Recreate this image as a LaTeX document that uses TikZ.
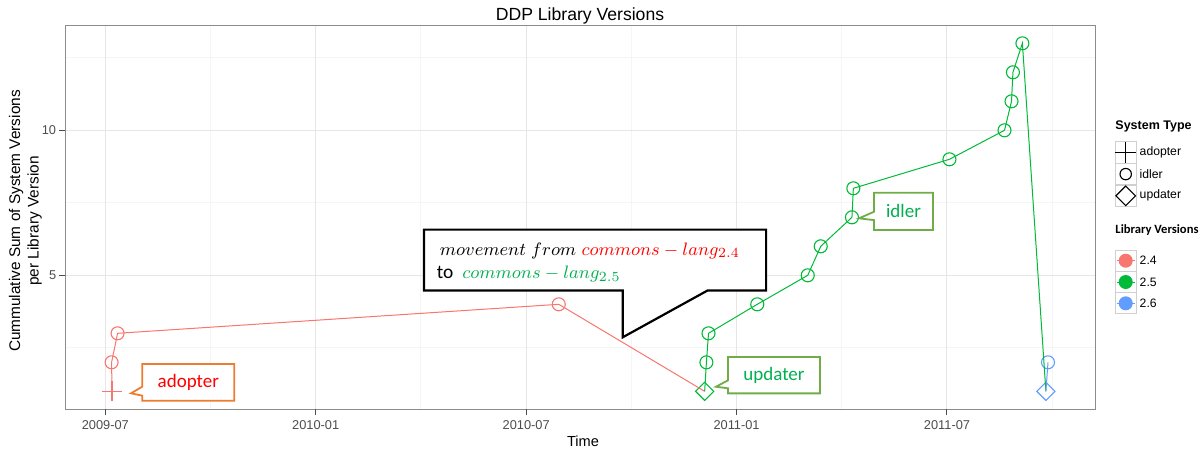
\documentclass[tikz,border=0pt]{standalone}
\usepackage{fontspec}
\setmainfont{Liberation Sans}
\newfontfamily\calibri{Carlito}
\usetikzlibrary{shapes.geometric,shapes.callouts,calc}

\definecolor{vred}{HTML}{F8766D}
\definecolor{vgreen}{HTML}{00BA38}
\definecolor{vblue}{HTML}{619CFF}
\definecolor{txtred}{HTML}{FF0000}
\definecolor{txtgreen}{HTML}{00B050}
\definecolor{boxorange}{HTML}{ED7D31}
\definecolor{boxgreen}{HTML}{70AD47}
\definecolor{gridmaj}{HTML}{E6E6E6}
\definecolor{gridmin}{HTML}{F5F5F5}
\definecolor{panelgray}{HTML}{8C8C8C}
\definecolor{keygray}{HTML}{D0D0D0}

\tikzset{
  gridmajor/.style={gridmaj,line width=0.5pt},
  gridminor/.style={gridmin,line width=0.5pt},
  panelline/.style={panelgray,line width=0.6pt},
  tickline/.style={black!70,line width=0.5pt},
  ticklab/.style={inner sep=0pt,font=\fontsize{6.4}{7.7}\selectfont},
  dataline/.style={line width=0.5pt},
  idler/.style={circle,draw=#1,minimum size=6.5pt,inner sep=0pt,line width=0.55pt},
  updater/.style={diamond,draw=#1,minimum size=9.3pt,inner sep=0pt,line width=0.55pt},
  adopter/.style={rectangle,minimum size=10pt,inner sep=0pt,
    path picture={\draw[#1,line width=0.55pt]
      (path picture bounding box.north) -- (path picture bounding box.south)
      (path picture bounding box.west) -- (path picture bounding box.east);}},
  keybox/.style={keygray,line width=0.5pt},
  leglab/.style={anchor=west,inner sep=0pt,font=\fontsize{6.1}{7.3}\selectfont},
  tagbox/.style={rectangle callout,draw=#1,fill=white,line width=0.9pt,inner sep=0pt,
    font=\calibri\fontsize{9.5}{11.4}\selectfont},
}

\begin{document}
\begin{tikzpicture}[x=0.5pt,y=-0.5pt]
\useasboundingbox (0,0) rectangle (1202,451);

% plot panel, data coordinates: months since 2009-07 / cumulative sum
\begin{scope}[shift={(105.3,420.3)},x=17.535pt,y=14.5pt]
\def\xl{-1.14} \def\xr{28.24} \def\yb{0.38} \def\yt{13.61}

\foreach \m in {3,9,...,27} \draw[gridminor] (\m,\yb) -- (\m,\yt);
\foreach \v in {2.5,7.5,12.5} \draw[gridminor] (\xl,\v) -- (\xr,\v);
\foreach \m in {0,6,...,24} \draw[gridmajor] (\m,\yb) -- (\m,\yt);
\foreach \v in {5,10} \draw[gridmajor] (\xl,\v) -- (\xr,\v);
\draw[panelline] (\xl,\yb) rectangle (\xr,\yt);

\foreach \m/\lab in {0/2009-07,6/2010-01,12/2010-07,18/2011-01,24/2011-07}
  \draw[tickline] (\m,\yb) -- ++(0,-2.85pt) node[ticklab,anchor=north,yshift=-2.5pt] (xt\m) {\lab};
\foreach \v in {5,10}
  \draw[tickline] (\xl,\v) -- ++(-3pt,0) node[ticklab,anchor=east,xshift=-1.35pt] (yt\v) {\v};

% library version 2.4
\node[adopter=vred] (r1) at (0.19,1) {};
\foreach \i/\m in {2/0.18,3/0.35,4/12.93} \node[idler=vred] (r\i) at (\m,\i) {};

% library version 2.5
\node[updater=vgreen] (g1) at (17.09,1) {};
\foreach \i/\m in {2/17.14,3/17.20,4/18.59,5/20.03,6/20.40,7/21.29,8/21.33,9/24.07,10/25.64,11/25.84,12/25.88,13/26.15}
  \node[idler=vgreen] (g\i) at (\m,\i) {};

% library version 2.6
\node[updater=vblue] (b1) at (26.82,1) {};
\node[idler=vblue] (b2) at (26.88,2) {};

\draw[vred,dataline] (r1.center) -- (r2.center) -- (r3.center) -- (r4.center) -- (g1.center);
\draw[vgreen,dataline] (g1.center) foreach \i in {2,...,13} {-- (g\i.center)} -- (b1.center);
\draw[vblue,dataline] (b1.center) -- (b2.center);
\end{scope}

% titles
\node[anchor=base,inner sep=0pt,font=\fontsize{8.8}{10.5}\selectfont] (title) at (580,20.7) {DDP Library Versions};
\node[anchor=base,inner sep=0pt,font=\fontsize{7.3}{8.8}\selectfont] (xtitle) at (583,446.5) {Time};
\node[rotate=90,align=center,inner sep=0pt,font=\fontsize{7.7}{9.25}\selectfont] (ytitle) at (25.5,221)
  {Cummulative Sum of System Versions\\per Library Version};

% legend: system type
\node[anchor=west,inner sep=0pt,font=\bfseries\fontsize{6.25}{7.5}\selectfont] (sttitle) at (1115,126.7) {System Type};
\foreach \y in {141.7,163.3,185} \draw[keybox] (1115,\y) rectangle ++(21.5,21.6);
\node[adopter=black,minimum size=10.75pt] (ka) at (1125.7,152.5) {};
\node[idler=black,minimum size=5.7pt] (ki) at (1125.7,174.1) {};
\node[updater=black,minimum size=10pt] (ku) at (1125.7,195.8) {};
\node[leglab] (la) at (1139.3,152.5) {adopter};
\node[leglab] (li) at (1139.3,174.1) {idler};
\node[leglab] (lu) at (1139.3,195.8) {updater};

% legend: library versions
\node[anchor=west,inner sep=0pt,font=\calibri\bfseries\fontsize{6.3}{7.5}\selectfont] (lvtitle) at (1115,230) {Library Versions};
\foreach \col/\lab/\y [count=\k] in {vred/2.4/260.7,vgreen/2.5/282,vblue/2.6/303.3} {
  \draw[keybox] (1115,\y-10.65) rectangle ++(21.5,21.3);
  \draw[\col,line width=0.5pt] (1117,\y) -- (1135,\y);
  \node[circle,fill=\col,minimum size=7pt,inner sep=0pt] (kv\k) at (1125.7,\y) {};
  \node[leglab] (lv\k) at (1139.3,\y) {\lab};
}

% callouts
\coordinate (adtip) at (131,393.3);
\coordinate (uptip) at (716,386.7);
\coordinate (idtip) at (859,218.3);
\node[tagbox=boxorange,minimum width=46pt,minimum height=18.35pt,callout absolute pointer={(adtip)},
  callout pointer width=4.5pt,text=txtred] (adbox) at (188.3,382.3) {adopter};
\node[tagbox=boxgreen,minimum width=46pt,minimum height=18.15pt,callout absolute pointer={(uptip)},
  callout pointer width=4pt,text=txtgreen] (upbox) at (774,375.2) {updater};
\node[tagbox=boxgreen,minimum width=29.5pt,minimum height=18.65pt,callout absolute pointer={(idtip)},
  callout pointer width=4.2pt,text=txtgreen] (idbox) at (903.5,211.3) {idler};

\node[minimum width=170.7pt,minimum height=30pt,inner sep=0pt] (mvbox) at (595,260) {};
\coordinate (mvtip) at (622.7,337.3);
\draw[line width=1.1pt,fill=white] (mvbox.south west) -- (mvbox.north west) -- (mvbox.north east)
  -- (mvbox.south east) -- ($(mvbox.south east)+(-58.4,0)$) -- (mvtip) -- (mvtip |- mvbox.south) -- cycle;
\node[anchor=base west,inner sep=0pt,font=\fontsize{9.35}{11.2}\selectfont] (mvone) at (439.5,255)
  {$movement\ from\ \textcolor{txtred}{commons-lang_{2.4}}$};
\node[anchor=base west,inner sep=0pt,font=\fontsize{9.35}{11.2}\selectfont] (mvtwo) at (436.5,278.3)
  {{\calibri\fontsize{9.7}{11.6}\selectfont to}\hspace{4.5pt}$\textcolor{txtgreen}{commons-lang_{2.5}}$};

\end{tikzpicture}
\end{document}
